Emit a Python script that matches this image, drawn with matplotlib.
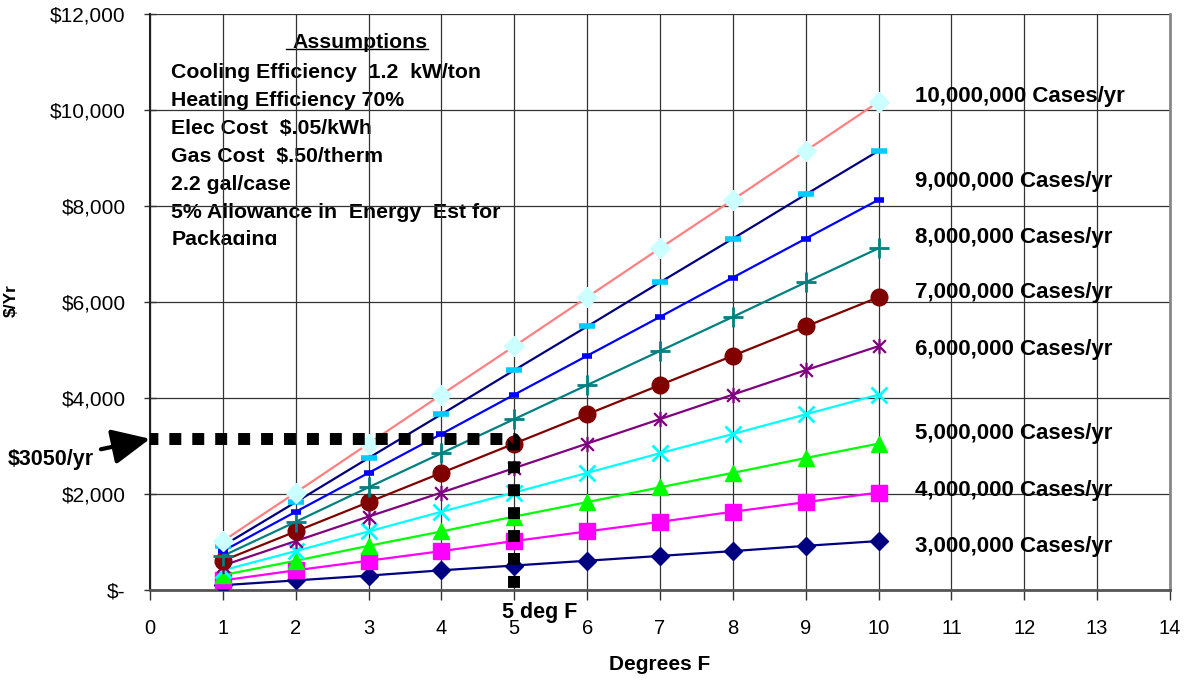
import matplotlib.pyplot as plt
import numpy as np
from matplotlib.path import Path
from matplotlib.transforms import Bbox, TransformedBbox

plt.rcParams['font.family'] = ['Liberation Sans', 'DejaVu Sans']

#------------------------------------------DATA----------------------------------------
degrees = [1, 2, 3, 4, 5, 6, 7, 8, 9, 10]

cost_3m = [100, 200, 300, 410, 510, 610, 710, 810, 920, 1020]
cost_4m = [200, 410, 610, 810, 1020, 1220, 1420, 1630, 1830, 2030]
cost_5m = [310, 610, 920, 1220, 1530, 1830, 2140, 2440, 2750, 3050]
cost_6m = [410, 810, 1220, 1630, 2030, 2440, 2850, 3250, 3660, 4070]
cost_7m = [510, 1020, 1530, 2030, 2540, 3050, 3560, 4070, 4580, 5080]
cost_8m = [610, 1220, 1830, 2440, 3050, 3660, 4270, 4880, 5490, 6100]
cost_9m = [710, 1420, 2140, 2850, 3560, 4270, 4980, 5690, 6410, 7120]
cost_10m = [810, 1630, 2440, 3250, 4070, 4880, 5690, 6510, 7320, 8130]
cost_11m = [920, 1830, 2750, 3660, 4580, 5490, 6410, 7320, 8240, 9150]
cost_12m = [1020, 2030, 3050, 4070, 5080, 6100, 7120, 8130, 9150, 10170]

case_labels = ['10,000,000 Cases/yr', '9,000,000 Cases/yr', '8,000,000 Cases/yr',
               '7,000,000 Cases/yr', '6,000,000 Cases/yr', '5,000,000 Cases/yr',
               '4,000,000 Cases/yr', '3,000,000 Cases/yr']

assumptions = ['Cooling Efficiency  1.2  kW/ton', 'Heating Efficiency 70%',
               'Elec Cost  $.05/kWh', 'Gas Cost  $.50/therm', '2.2 gal/case',
               '5% Allowance in  Energy  Est for', 'Packaging']

target_deg = 5
target_cost = 3150

y_ticks = [0, 2000, 4000, 6000, 8000, 10000, 12000]
y_tick_labels = ['$-', '$2,000', '$4,000', '$6,000', '$8,000', '$10,000', '$12,000']
x_ticks = list(range(0, 15))
#------------------------------------------DATA----------------------------------------


#-----------------------------------------STYLES---------------------------------------
star = Path([(-1, -1), (1, 1), (-1, 1), (1, -1), (0, -1.2), (0, 1.2)],
            [Path.MOVETO, Path.LINETO, Path.MOVETO, Path.LINETO, Path.MOVETO, Path.LINETO])

series = [
    (cost_3m, '#000080', 'D', '#000080', 9, 1),
    (cost_4m, '#FF00FF', 's', '#FF00FF', 11, 1),
    (cost_5m, '#00FF00', '^', '#00FF00', 12, 1),
    (cost_6m, '#00FFFF', 'x', '#00FFFF', 11, 2),
    (cost_7m, '#800080', star, '#800080', 11, 1.6),
    (cost_8m, '#800000', 'o', '#800000', 12, 1),
    (cost_9m, '#008080', '+', '#008080', 14, 2),
    (cost_10m, '#0000FF', '_', '#0000FF', 7, 4),
    (cost_11m, '#000080', '_', '#00CCFF', 12, 4),
    (cost_12m, '#FF8080', 'D', '#CCFFFF', 10, 1),
]
label_y = [10290, 8520, 7350, 6190, 5020, 3250, 2080, 900]
#-----------------------------------------STYLES---------------------------------------


fig = plt.figure(figsize=(11.88, 6.82), dpi=100)
ax = fig.add_axes([150 / 1188, 1 - 590 / 682, 1020 / 1188, 576 / 682])

for vals, lc, mk, mc, ms, mew in series:
    ax.plot(degrees, vals, color=lc, lw=1.6, marker=mk, ms=ms,
            mfc=mc, mec=mc, mew=mew, zorder=3)

# target line
ax.plot([0, target_deg, target_deg], [target_cost, target_cost, 0], color='black',
        lw=8.6, linestyle=(0.3, (1, 0.92)), dash_capstyle='butt', zorder=5, clip_on=False)

for lab, yy in zip(case_labels, label_y):
    ax.text(10.5, yy, lab, fontsize=16, fontweight='bold', va='center', ha='left')

# assumptions box
clip = TransformedBbox(Bbox([[0, 7190], [14, 12000]]), ax.transData)
ax.text(2.88, 11400, 'Assumptions', fontsize=15.3, fontweight='bold',
        ha='center', va='center', zorder=1)
ax.plot([1.87, 3.82], [11270, 11270], color='black', lw=1, zorder=1)
for i, line in enumerate(assumptions):
    t = ax.text(0.29, 10790 - i * 583, line, fontsize=15.3, fontweight='bold',
                ha='left', va='center', zorder=1, clip_on=True)
    t.set_clip_box(clip)

ax.annotate('$3050/yr', xy=(0, target_cost), xytext=(-1.95, 2710),
            fontsize=15.5, fontweight='bold', va='center', ha='left',
            annotation_clip=False,
            arrowprops=dict(arrowstyle='-|>,head_length=1.5,head_width=0.7',
                            color='black', lw=3, shrinkA=3, shrinkB=0))

ax.text(4.83, -460, '5 deg F', fontsize=15.5, fontweight='bold',
        ha='left', va='center', clip_on=False)

ax.set_xlim(0, 14)
ax.set_ylim(0, 12000)
ax.set_xticks(x_ticks)
ax.set_yticks(y_ticks)
ax.set_yticklabels(y_tick_labels)
ax.tick_params(axis='x', direction='out', length=7, width=1, pad=14,
               labelsize=14.5, color='#333333')
ax.tick_params(axis='y', direction='inout', length=9, width=1, pad=13,
               labelsize=15, color='#333333')
ax.grid(True, color='#333333', lw=0.9)

ax.spines['top'].set_visible(False)
ax.spines['left'].set_color('#222222')
ax.spines['left'].set_linewidth(1.5)
ax.spines['bottom'].set_color('#555555')
ax.spines['bottom'].set_linewidth(2)
ax.spines['right'].set_color('#888888')
ax.spines['right'].set_linewidth(2)

ax.set_xlabel('Degrees F', fontsize=15, fontweight='bold')
ax.xaxis.set_label_coords(0.5, -0.112)
ax.set_ylabel('$/Yr', fontsize=12.5, fontweight='bold')
ax.yaxis.set_label_coords(-0.129, 0.503)

fig.savefig('out.png', dpi=100)
